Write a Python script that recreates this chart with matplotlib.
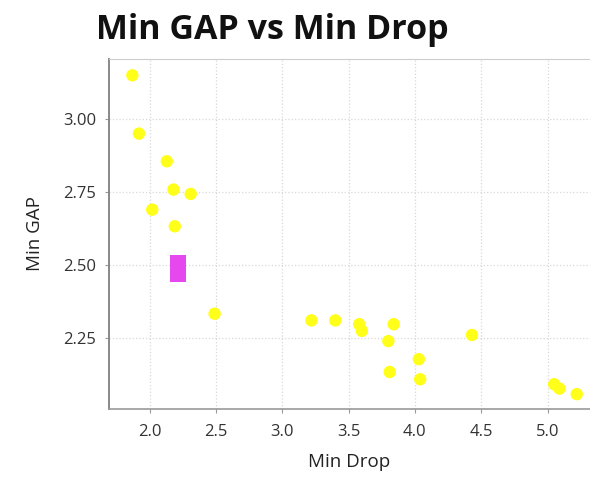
import matplotlib

matplotlib.use("Agg")
import matplotlib.pyplot as plt

plt.rcParams.update({"font.family": ["Open Sans", "DejaVu Sans"]})

# yellow points (Min Drop, Min GAP)
min_drop = [1.87, 1.92, 2.13, 2.18, 2.31, 2.02, 2.19, 2.49, 3.22, 3.40,
            3.58, 3.60, 3.84, 3.80, 3.81, 4.03, 4.04, 4.43, 5.05, 5.09, 5.22]
min_gap = [3.15, 2.95, 2.855, 2.758, 2.743, 2.689, 2.632, 2.332, 2.309, 2.309,
           2.296, 2.273, 2.296, 2.238, 2.132, 2.176, 2.107, 2.259, 2.09, 2.075, 2.056]

# highlighted point
sel_drop = [2.213]
sel_gap = [2.486]

x_ticks = [2.0, 2.5, 3.0, 3.5, 4.0, 4.5, 5.0]
y_ticks = [2.25, 2.50, 2.75, 3.00]

fig = plt.figure(figsize=(5.9, 4.78), dpi=100)
ax = fig.add_axes([109 / 590, 1 - 409 / 478, 1 - 109 / 590, (409 - 59) / 478])

ax.scatter(min_drop, min_gap, s=80, color="#ffff1a", edgecolors="none", zorder=3)
rect = [(-0.62, -1), (0.62, -1), (0.62, 1), (-0.62, 1), (-0.62, -1)]
ax.scatter(sel_drop, sel_gap, s=370, marker=rect, color="#e448ee",
           edgecolors="none", zorder=4)

ax.set_xlim(1.694, 5.32)
ax.set_ylim(2.005, 3.206)
ax.set_xticks(x_ticks, [f"{v:.1f}" for v in x_ticks])
ax.set_yticks(y_ticks, [f"{v:.2f}" for v in y_ticks])
ax.tick_params(labelsize=12, colors="#333333", length=3, color="#999999")
ax.tick_params(axis="x", pad=8)
ax.tick_params(axis="y", pad=6)
ax.grid(True, ls=":", color="#d8d8d8", lw=0.9)
ax.set_axisbelow(True)

ax.spines["right"].set_visible(False)
ax.spines["top"].set_color("#cccccc")
ax.spines["left"].set_color("#888888")
ax.spines["left"].set_linewidth(1.4)
ax.spines["bottom"].set_color("#999999")
ax.spines["bottom"].set_linewidth(1.2)

ax.set_xlabel("Min Drop", fontsize=13.5, color="#222222", labelpad=9)
ax.set_ylabel("Min GAP", fontsize=13.5, color="#222222", labelpad=14)
fig.text(96 / 590, 1 - 30 / 478, "Min GAP vs Min Drop", fontsize=24.5,
         fontweight="bold", va="center", ha="left", color="#111111")

fig.savefig("out.png", dpi=100)
